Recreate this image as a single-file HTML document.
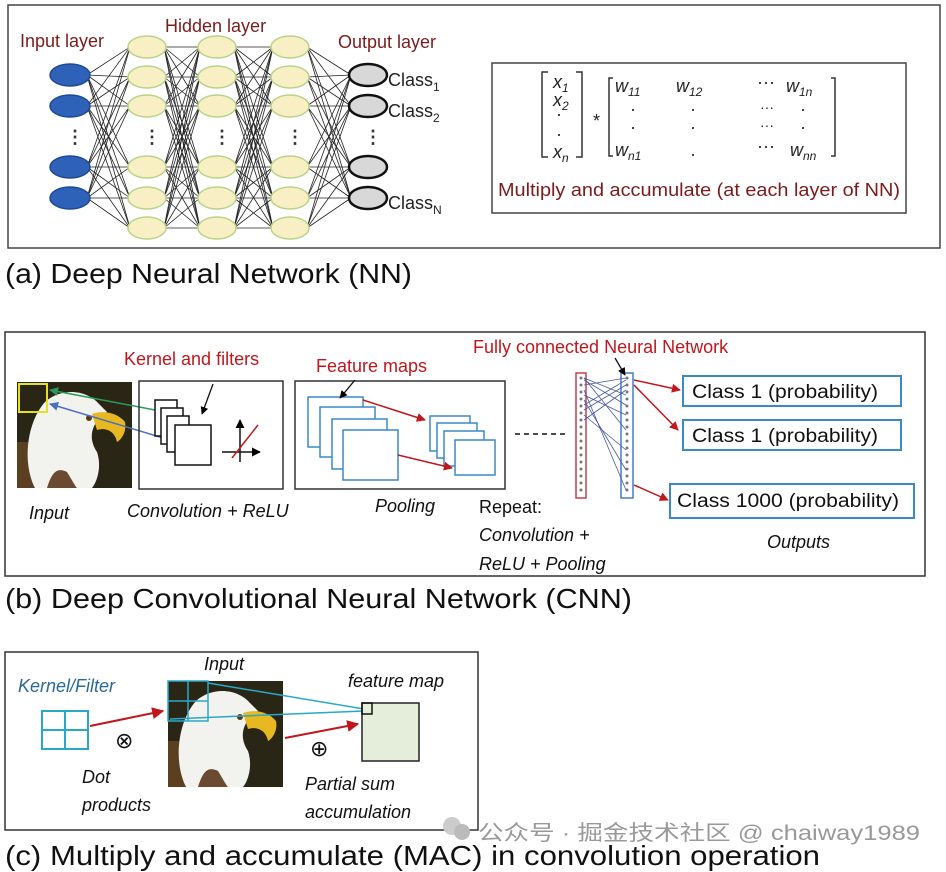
<!DOCTYPE html>
<html><head><meta charset="utf-8">
<style>
html,body{margin:0;padding:0;background:#fff;}
svg{display:block;}
text{font-family:"Liberation Sans",sans-serif;}
.it{font-style:italic;}
</style></head>
<body>
<svg id="s" width="946" height="872" viewBox="0 0 946 872" xmlns="http://www.w3.org/2000/svg">
<defs>
<marker id="ar" viewBox="0 0 10 10" refX="9" refY="5" markerWidth="6" markerHeight="6" orient="auto"><path d="M0,0 L10,5 L0,10 z" fill="#c0161c"/></marker>
<marker id="ak" viewBox="0 0 10 10" refX="9" refY="5" markerWidth="6" markerHeight="6" orient="auto"><path d="M0,0 L10,5 L0,10 z" fill="#000"/></marker>
<marker id="ag" viewBox="0 0 10 10" refX="9" refY="5" markerWidth="6" markerHeight="6" orient="auto"><path d="M0,0 L10,5 L0,10 z" fill="#2a9a5a"/></marker>
<marker id="ab" viewBox="0 0 10 10" refX="9" refY="5" markerWidth="6" markerHeight="6" orient="auto"><path d="M0,0 L10,5 L0,10 z" fill="#4a6fc0"/></marker>
<g id="eagle">
<rect x="0" y="0" width="115" height="106" fill="#2a2616"/>
<rect x="0" y="60" width="40" height="46" fill="#5a4020"/>
<path d="M18,106 C5,80 10,40 28,20 C45,5 70,8 82,22 L90,30 C75,40 70,55 80,70 C85,85 80,100 75,106 Z" fill="#f2f2ee"/>
<path d="M75,32 C85,28 100,30 108,40 C110,50 104,58 100,60 C98,50 90,45 80,48 Z" fill="#e8b820"/>
<circle cx="72" cy="36" r="3" fill="#5a3a10"/>
<path d="M30,106 C35,90 40,85 50,90 C55,98 58,104 60,106 Z" fill="#6a4a30"/>
</g>
</defs>

<!-- (a) -->
<rect x="8" y="5" width="932" height="243" fill="none" stroke="#444" stroke-width="1.5"/>
<g id="lines" stroke="#222" stroke-width="0.8"></g>
<g id="nodes"></g>
<text x="20" y="47" font-size="18" fill="#7a1c1c">Input layer</text>
<text x="165" y="32" font-size="18" fill="#7a1c1c">Hidden layer</text>
<text x="338" y="48" font-size="18" fill="#7a1c1c">Output layer</text>
<text x="388" y="86" font-size="18" fill="#222">Class<tspan font-size="12" dy="5">1</tspan></text>
<text x="388" y="117" font-size="18" fill="#222">Class<tspan font-size="12" dy="5">2</tspan></text>
<text x="388" y="209" font-size="18" fill="#222">Class<tspan font-size="12" dy="5">N</tspan></text>

<rect x="492" y="63" width="414" height="150" fill="none" stroke="#444" stroke-width="1.5"/>
<g font-family="Liberation Serif,serif" font-style="italic" font-size="18" fill="#222">
<path d="M548,72 h-6 v85 h6 M576,72 h6 v85 h-6 M613,78 h-4 v78 h4 M831,78 h4 v78 h-4" fill="none" stroke="#333" stroke-width="1.5"/>
<text x="553" y="88" font-family="Liberation Serif,serif">x<tspan font-size="12" dy="4">1</tspan></text>
<text x="553" y="106">x<tspan font-size="12" dy="4">2</tspan></text>
<text x="556" y="120">·</text><text x="556" y="140">·</text>
<text x="553" y="158">x<tspan font-size="12" dy="4">n</tspan></text>
<text x="593" y="127" font-style="normal">*</text>
<text x="615" y="92">w<tspan font-size="12" dy="4">11</tspan></text>
<text x="676" y="92">w<tspan font-size="12" dy="4">12</tspan></text>
<text x="757" y="88" font-style="normal">···</text>
<text x="786" y="92">w<tspan font-size="12" dy="4">1n</tspan></text>
<text x="630" y="115">·</text><text x="630" y="133">·</text>
<text x="690" y="115">·</text><text x="690" y="133">·</text><text x="690" y="160">·</text>
<text x="760" y="112" font-style="normal" font-size="14">···</text><text x="760" y="130" font-style="normal" font-size="14">···</text>
<text x="800" y="115">·</text><text x="800" y="133">·</text>
<text x="615" y="156">w<tspan font-size="12" dy="4">n1</tspan></text>
<text x="757" y="152" font-style="normal">···</text>
<text x="790" y="156">w<tspan font-size="12" dy="4">nn</tspan></text>
</g>
<text x="498" y="196" font-size="18.5" fill="#7a1c1c" textLength="402" lengthAdjust="spacingAndGlyphs">Multiply and accumulate (at each layer of NN)</text>
<text x="5" y="283" font-size="28" fill="#111" textLength="407" lengthAdjust="spacingAndGlyphs">(a) Deep Neural Network (NN)</text>

<!-- (b) -->
<rect x="5" y="332" width="920" height="244" fill="none" stroke="#333" stroke-width="1.5"/>
<use href="#eagle" x="17" y="382"/>
<rect x="19" y="384" width="28" height="28" fill="none" stroke="#e6e020" stroke-width="2"/>
<line x1="155" y1="410" x2="50" y2="390" stroke="#2a9a5a" stroke-width="1.5" marker-end="url(#ag)"/>
<line x1="170" y1="440" x2="50" y2="404" stroke="#4a6fc0" stroke-width="1.5" marker-end="url(#ab)"/>
<rect x="139" y="381" width="144" height="108" fill="none" stroke="#333" stroke-width="1.5"/>
<g fill="#fff" stroke="#111" stroke-width="1.5">
<rect x="155" y="400" width="22" height="36"/><rect x="161" y="408" width="22" height="36"/>
<rect x="167" y="416" width="22" height="36"/><rect x="175" y="425" width="36" height="40"/>
</g>
<line x1="222" y1="452" x2="260" y2="452" stroke="#111" stroke-width="1.5" marker-end="url(#ak)"/>
<line x1="240" y1="462" x2="240" y2="420" stroke="#111" stroke-width="1.5" marker-end="url(#ak)"/>
<line x1="232" y1="458" x2="258" y2="425" stroke="#c0161c" stroke-width="1.5"/>
<line x1="213" y1="384" x2="202" y2="414" stroke="#111" stroke-width="1.3" marker-end="url(#ak)"/>
<text x="124" y="365" font-size="18" fill="#c0161c">Kernel and filters</text>
<rect x="295" y="381" width="210" height="108" fill="none" stroke="#333" stroke-width="1.5"/>
<g fill="#fff" stroke="#3a8ac8" stroke-width="1.5">
<rect x="308" y="397" width="55" height="50"/><rect x="320" y="407" width="55" height="50"/>
<rect x="332" y="419" width="55" height="50"/><rect x="343" y="430" width="55" height="50"/>
<rect x="430" y="416" width="40" height="35"/><rect x="437" y="423" width="40" height="35"/>
<rect x="444" y="431" width="40" height="35"/><rect x="455" y="440" width="40" height="35"/>
</g>
<line x1="363" y1="400" x2="425" y2="420" stroke="#c0161c" stroke-width="1.5" marker-end="url(#ar)"/>
<line x1="398" y1="455" x2="452" y2="468" stroke="#c0161c" stroke-width="1.5" marker-end="url(#ar)"/>
<line x1="355" y1="380" x2="340" y2="398" stroke="#111" stroke-width="1.3" marker-end="url(#ak)"/>
<text x="316" y="372" font-size="18" fill="#c0161c">Feature maps</text>
<line x1="515" y1="434" x2="568" y2="434" stroke="#111" stroke-width="1.5" stroke-dasharray="5,4"/>
<rect x="576" y="373" width="10" height="125" fill="none" stroke="#c04050" stroke-width="1.5"/>
<rect x="621" y="373" width="12" height="125" fill="none" stroke="#4a7ac0" stroke-width="1.5"/>
<g id="fcdots" fill="#777"></g>
<g stroke="#4a5aa0" stroke-width="0.8">
<line x1="584" y1="378" x2="626" y2="395"/><line x1="584" y1="385" x2="626" y2="378"/><line x1="584" y1="395" x2="626" y2="415"/>
<line x1="584" y1="405" x2="626" y2="380"/><line x1="584" y1="415" x2="626" y2="450"/><line x1="584" y1="378" x2="626" y2="430"/>
<line x1="584" y1="390" x2="626" y2="490"/><line x1="584" y1="420" x2="626" y2="390"/><line x1="584" y1="400" x2="626" y2="470"/>
<line x1="584" y1="380" x2="626" y2="405"/><line x1="584" y1="410" x2="626" y2="385"/>
</g>
<line x1="615" y1="358" x2="625" y2="375" stroke="#111" stroke-width="1.3" marker-end="url(#ak)"/>
<text x="473" y="353" font-size="18" fill="#c0161c">Fully connected Neural Network</text>
<line x1="634" y1="380" x2="680" y2="390" stroke="#c0161c" stroke-width="1.5" marker-end="url(#ar)"/>
<line x1="634" y1="385" x2="678" y2="430" stroke="#c0161c" stroke-width="1.5" marker-end="url(#ar)"/>
<line x1="634" y1="485" x2="668" y2="500" stroke="#c0161c" stroke-width="1.5" marker-end="url(#ar)"/>
<g fill="#fff" stroke="#3a8ac8" stroke-width="2">
<rect x="683" y="376" width="218" height="30"/><rect x="683" y="420" width="218" height="30"/><rect x="670" y="484" width="244" height="34"/>
</g>
<g font-size="19" fill="#111">
<text x="692" y="398" textLength="186" lengthAdjust="spacingAndGlyphs">Class 1 (probability)</text>
<text x="692" y="442" textLength="186" lengthAdjust="spacingAndGlyphs">Class 1 (probability)</text>
<text x="677" y="507" textLength="222" lengthAdjust="spacingAndGlyphs">Class 1000 (probability)</text>
</g>
<g font-size="18" fill="#111" class="it">
<text x="29" y="519">Input</text>
<text x="127" y="517">Convolution + ReLU</text>
<text x="375" y="512">Pooling</text>
<text x="479" y="541">Convolution +</text>
<text x="479" y="570">ReLU + Pooling</text>
<text x="767" y="548">Outputs</text>
</g>
<text x="479" y="513" font-size="18" fill="#111">Repeat:</text>
<text x="5" y="608" font-size="28" fill="#111" textLength="627" lengthAdjust="spacingAndGlyphs">(b) Deep Convolutional Neural Network (CNN)</text>

<!-- (c) -->
<rect x="5" y="652" width="473" height="178" fill="none" stroke="#333" stroke-width="1.5"/>
<use href="#eagle" x="168" y="681"/>
<g fill="none" stroke="#2aa8c8" stroke-width="2">
<rect x="42" y="711" width="46" height="38"/><line x1="65" y1="711" x2="65" y2="749"/><line x1="42" y1="730" x2="88" y2="730"/>
<rect x="168" y="681" width="40" height="40" stroke-width="1.5"/><line x1="188" y1="681" x2="188" y2="721" stroke-width="1.5"/><line x1="168" y1="701" x2="208" y2="701" stroke-width="1.5"/>
<line x1="208" y1="683" x2="364" y2="709" stroke-width="1.5"/><line x1="170" y1="719" x2="364" y2="711" stroke-width="1.5"/>
</g>
<rect x="362" y="703" width="57" height="58" fill="#e4eedb" stroke="#222" stroke-width="1.5"/>
<rect x="362" y="703" width="10" height="11" fill="none" stroke="#111" stroke-width="1.5"/>
<line x1="90" y1="726" x2="163" y2="711" stroke="#c0161c" stroke-width="2" marker-end="url(#ar)"/>
<line x1="285" y1="738" x2="358" y2="724" stroke="#c0161c" stroke-width="2" marker-end="url(#ar)"/>
<text x="115" y="748" font-size="22" fill="#111">⊗</text>
<text x="310" y="756" font-size="22" fill="#111">⊕</text>
<g font-size="18" fill="#111" class="it">
<text x="18" y="692" fill="#2a6a9a">Kernel/Filter</text>
<text x="204" y="670">Input</text>
<text x="348" y="687">feature map</text>
<text x="82" y="783">Dot</text>
<text x="82" y="811">products</text>
<text x="305" y="790">Partial sum</text>
<text x="305" y="818">accumulation</text>
</g>
<circle cx="452" cy="826" r="9" fill="#ccc"/><circle cx="462" cy="832" r="8" fill="#bbb"/>
<text x="478" y="840" font-size="21" fill="#999" font-family="Liberation Sans,'Noto Sans CJK SC',sans-serif" textLength="442" lengthAdjust="spacingAndGlyphs">公众号 · 掘金技术社区 @ chaiway1989</text>
<text x="5" y="865" font-size="28" fill="#111" textLength="815" lengthAdjust="spacingAndGlyphs">(c) Multiply and accumulate (MAC) in convolution operation</text>

<script>
(function(){
var ns="http://www.w3.org/2000/svg";
var L=document.getElementById('lines'),N=document.getElementById('nodes');
var cols=[{x:70,ys:[75,106,167,198],f:"#2e62b8",s:"#1f4a90"},
{x:147,ys:[47,77,106,167,198,228],f:"#f8f0c4",s:"#b8d488"},
{x:217,ys:[47,77,106,167,198,228],f:"#f8f0c4",s:"#b8d488"},
{x:290,ys:[47,77,106,167,198,228],f:"#f8f0c4",s:"#b8d488"},
{x:368,ys:[75,106,167,198],f:"#d8d8d8",s:"#111"}];
for(var c=0;c<4;c++){var a=cols[c],b=cols[c+1];
a.ys.forEach(function(y1){b.ys.forEach(function(y2){var l=document.createElementNS(ns,'line');
l.setAttribute('x1',a.x+17);l.setAttribute('y1',y1);l.setAttribute('x2',b.x-17);l.setAttribute('y2',y2);L.appendChild(l);});});}
cols.forEach(function(c,i){c.ys.forEach(function(y){var e=document.createElementNS(ns,'ellipse');
e.setAttribute('cx',c.x);e.setAttribute('cy',y);e.setAttribute('rx',i==0?20:19);e.setAttribute('ry',11);
e.setAttribute('fill',c.f);e.setAttribute('stroke',c.s);e.setAttribute('stroke-width',i==4?2.5:1.5);N.appendChild(e);});
var t=document.createElementNS(ns,'text');t.setAttribute('x',c.x-4);t.setAttribute('y',143);t.setAttribute('font-size','18');t.setAttribute('font-weight','bold');t.setAttribute('fill','#333');t.textContent='⋮';N.appendChild(t);});
var D=document.getElementById('fcdots');
for(var y=378;y<496;y+=7){[581,627].forEach(function(x){var c=document.createElementNS(ns,'circle');c.setAttribute('cx',x);c.setAttribute('cy',y);c.setAttribute('r',1.5);D.appendChild(c);});}
})();
</script>
</svg>
</body></html>
